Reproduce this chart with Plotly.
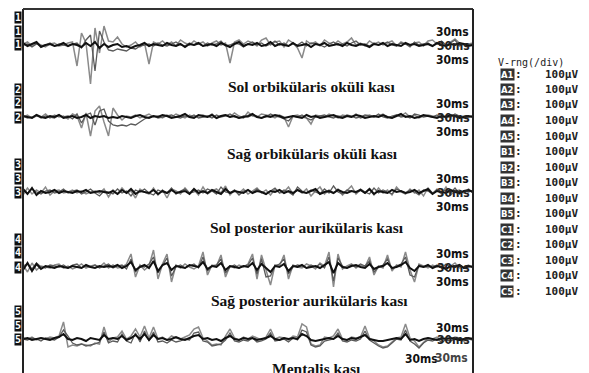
import plotly.graph_objects as go

# ---------------- data (amplitudes, 1 unit ~ 1 screen px, sampled every 3 ms) ----------------
TIME_STEP_MS = 3
CHANNEL_NAMES = ["Sol orbikülaris oküli kası", "Sağ orbikülaris oküli kası",
                 "Sol posterior aurikülaris kası", "Sağ posterior aurikülaris kası",
                 "Mentalis kası"]
SWEEP_LABEL = "30ms"
VRNG_TITLE = "V-rng(/div)"
VRNG_CHANNELS = ["A1", "A2", "A3", "A4", "A5", "B1", "B2", "B3", "B4", "B5",
                 "C1", "C2", "C3", "C4", "C5"]
VRNG_VALUE = "100µV"

CH1_A = [2,-1,1,3,-2,0,1,-1,0,2, -1,1,0,-2,2,-1,3,-3,1,-2, 0,1,-2,-1,-3,-1,0,2,-1,1,
         0,-1,2,0,-1,1,-2,1,0,2, -1,0,1,-1,2,0,-2,1,3,-1, 1,0,2,-1,0,3,-1,1,0,-1,
         2,-1,0,1,-2,1,0,2,-1,0, 1,-1,2,0,-1,1,0,-2,1,0, 2,-1,1,0,-1,2,0,1,-1,0,
         1,-1,2,0,-1,1,0,2,1,-1, 0]
CH1_B = [1,3,-1,2,0,-2,1,2,-1,0, 2,3,-21,12,2,-39,17,-8,19,4, 3,8,1,-2,0,3,-2,2,-19,3,
         1,4,0,3,-1,5,2,0,4,1, 3,-1,2,4,0,2,-18,3,5,1, 4,2,-1,5,7,0,3,4,-2,5,
         2,-3,-13,4,1,3,-1,5,2,0, 4,1,3,7,0,2,-1,4,1,3, 0,2,4,-1,3,1,0,2,3,-1,
         4,5,1,2,-1,3,6,2,0,1, 2]
CH1_C = [0,1,-2,1,-1,0,2,-1,1,0, -1,1,2,-3,5,10,-26,14,3,-5, -6,-4,-5,-6,-3,-4,-1,0,1,-1,
         2,0,-1,1,3,0,-1,2,0,1, -1,2,0,1,4,-1,0,2,1,-2, 1,3,0,2,-1,1,4,0,2,-1,
         1,0,3,-1,2,1,0,-2,1,3, 0,1,-1,2,4,0,1,-1,2,0, 1,3,0,-1,2,1,-2,3,0,1,
         2,-1,1,4,0,2,5,-1,1,0, 1]

CH2_A = [1,0,-1,2,0,-1,1,0,2,-1, 0,1,-1,0,2,-1,1,0,1,-1, 0,-1,1,0,-1,1,2,0,-1,1,
         0,2,1,-1,0,1,3,0,-1,2, 1,0,2,-1,1,2,0,1,-1,0, 1,3,0,-1,1,0,2,1,-1,0,
         1,0,-1,2,0,1,-1,0,1,2, 0,-1,1,0,2,1,-1,0,1,0, 2,0,-1,1,3,0,1,-1,0,2,
         1,0,-1,1,0,2,1,-1,0,1, 0]
CH2_B = [0,2,-1,1,0,3,-1,2,0,1, -2,3,1,-11,4,-19,6,11,-5,-19, 9,2,-3,1,0,2,-1,1,3,0,
         1,-1,2,0,3,1,-1,2,0,1, 2,0,3,-1,1,2,0,4,1,-1, 5,1,0,3,2,1,-1,2,0,-10,
         1,2,0,-1,-7,2,1,0,3,1, -1,2,1,0,3,-1,1,2,0,1, 3,0,-1,2,1,4,0,2,-1,1,
         2,1,0,3,-1,1,2,0,1,0, 1]
CH2_C = [1,-1,0,2,-1,1,0,-1,2,0, 1,-2,3,-6,2,4,-8,6,8,-4, -8,-9,-8,-9,-7,-8,-5,-2,0,1,
         -1,0,1,2,0,-1,1,0,2,-1, 0,1,-1,2,0,1,3,0,-1,1, 0,2,1,-1,0,3,1,0,-2,-4,
         1,0,2,-1,-3,0,1,2,0,-1, 1,0,2,1,-1,0,2,1,0,3, 0,-1,1,2,0,1,-1,3,2,0,
         1,0,2,-1,1,0,3,1,-1,0, 1]

CH3_A = [3,-2,4,-3,1,-1,0,2,-1,1, 0,-1,1,0,2,-1,0,1,0,-1, 1,-2,2,-1,3,-2,1,0,-1,2,
         -2,1,-1,2,-1,0,1,-2,3,-1, 1,-1,2,0,-2,3,-1,1,0,-1, 2,-1,1,0,-2,1,0,2,-1,1,
         -1,2,0,-1,1,3,-2,0,1,-1, 2,0,-1,1,0,2,-1,3,-2,1, 0,-1,2,0,1,-1,0,2,-1,1,
         3,-2,1,0,-1,2,0,-1,1,2, 0]
CH3_B = [-3,4,-2,2,-1,5,-3,1,2,-1, 0,2,-1,1,-2,0,1,-1,3,-5, 2,-2,4,-1,1,-6,3,0,-2,4,
         -3,2,-6,3,1,-2,4,-1,2,-3, 5,-2,1,3,-1,6,-3,2,-1,3, -2,1,4,-1,2,-3,3,-1,0,5,
         -2,2,-1,3,-4,1,5,-2,2,-1, 3,-3,1,6,-2,2,-1,3,-3,4, -1,2,-3,5,0,-2,3,-1,2,-4,
         4,-1,2,-2,5,-3,1,2,-1,3, -1]
CH3_C = [2,-1,3,0,-2,1,2,-1,0,3, -1,1,2,-2,0,3,-1,-4,1,0, -2,3,-1,1,-4,2,0,3,-1,-3,
         2,0,-1,4,-2,1,3,-1,0,2, -1,3,1,-2,5,0,-1,2,-3,1, 2,-1,3,0,-2,1,4,-1,2,0,
         -3,5,1,-1,2,0,-2,3,-1,6, 0,-2,2,1,-1,3,0,-2,4,-1, 2,0,-2,3,1,-1,2,0,-3,2,
         1,-2,3,0,2,-1,4,-2,1,0, 2]

CH4_A = [-3,4,-4,3,-2,1,0,-1,1,0, -1,1,0,-1,2,0,-1,1,0,1, 0,2,-1,1,5,-3,0,2,-1,6,
         -4,2,4,-3,1,0,-1,2,1,0, 5,-2,1,0,4,-3,1,0,-1,1, 0,4,-3,3,-1,-5,1,0,3,-4,
         1,0,2,-1,0,1,-1,2,5,-6, 4,0,-1,1,2,0,-1,3,-2,0, 1,4,-1,0,2,5,-1,-4,1,0,
         2,-1,1,0,-2,1,0,2,-1,1, 0]
CH4_B = [2,-5,4,-3,1,0,-1,2,3,-1, 1,-2,0,3,-1,1,2,0,4,-1, 2,-1,0,3,13,-10,2,-3,1,17,
         -12,3,13,-15,2,-1,3,0,-2,1, 15,-8,2,1,12,-10,1,-1,2,0, 3,13,-12,12,-4,-18,2,1,12,-12,
         2,0,-1,3,1,-2,4,1,15,-20, 13,-2,1,3,-1,2,0,10,-8,1, -1,12,-4,2,0,15,-3,-15,3,1,
         -1,2,0,3,-2,1,4,-1,0,2, -1]
CH4_C = [1,3,-2,4,0,-1,2,1,0,2, -1,2,3,-1,1,0,2,-1,1,3, -1,1,2,-2,8,-5,1,0,3,10,
         -6,1,9,-9,0,2,-1,1,3,-1, 10,-4,1,2,8,-6,0,2,-1,1, 2,9,-7,8,-10,-9,1,3,8,-7,
         0,2,1,-1,2,0,3,-1,10,-14, 9,1,-1,2,0,3,1,6,-5,0, 2,8,-2,1,3,10,-8,-10,2,0,
         1,0,2,-1,3,0,1,2,-1,0, 1]

CH5_A = [0,1,-1,0,1,0,-1,1,2,5, 0,-1,1,0,-2,1,0,-1,4,0, 1,0,3,-1,1,4,0,5,-1,4,
         0,1,-1,0,2,0,-1,1,3,4, 0,1,-1,0,-2,1,3,0,-1,1, 0,1,-1,0,1,3,0,-1,1,0,
         1,0,5,3,-1,-2,-1,0,1,0, 3,0,-1,1,0,2,4,0,-1,-2, -2,-1,0,1,0,5,-1,0,-2,0,
         1,0,-1,1,0,1,0,-1,0,1, 0]
CH5_B = [1,0,2,-1,1,0,2,1,3,17, -8,-6,-7,-5,-6,-7,-4,-5,12,-3, 1,2,8,0,3,10,2,13,1,12,
         0,2,-1,3,1,0,2,4,10,12, 1,-2,-6,-5,-6,3,10,1,-1,2, 0,3,1,-1,2,10,0,2,1,-1,
         3,2,15,12,-5,-7,-6,2,1,3, 10,0,-1,2,1,2,13,1,-2,-6, -8,-7,-3,1,2,15,1,-2,-8,-3,
         1,0,2,-1,1,0,2,1,-1,0, 1]
CH5_C = [0,-1,1,0,-2,1,0,-1,2,9, 3,-4,-6,-5,-7,-6,-5,-3,7,-4, -2,-3,5,-2,-4,6,-3,8,-2,7,
         -3,-2,-4,-1,-3,-2,0,-1,6,7, -2,-3,-7,-6,-5,-1,6,-2,-3,-1, -2,1,-3,-2,0,6,-2,-1,0,-3,
         1,-1,9,7,-6,-8,-7,-2,-1,0, 6,-2,-3,-1,-2,0,8,-1,-4,-7, -9,-8,-4,0,-1,9,-2,-5,-9,-4,
         -1,-2,0,-3,-1,-2,0,-1,-2,0, -1]

CHANNEL_TRACES = [(CH1_A, CH1_B, CH1_C), (CH2_A, CH2_B, CH2_C), (CH3_A, CH3_B, CH3_C),
                  (CH4_A, CH4_B, CH4_C), (CH5_A, CH5_B, CH5_C)]

# ---------------- layout constants (screen pixels) ----------------
PAGE_OFFSET = 8                      # default body margin of the written html page
W, H = 589, 373
PLOT_LEFT, PLOT_RIGHT, PLOT_TOP, PLOT_BOTTOM = 23, 473, 9, 373
ML = PLOT_LEFT - PAGE_OFFSET
MT = PLOT_TOP - PAGE_OFFSET
PW = PLOT_RIGHT - PLOT_LEFT
PH = PLOT_BOTTOM - PLOT_TOP
MR = W - ML - PW
MB = H - MT - PH
BASELINE_PX = [45, 117, 192, 267, 339]           # screen rows of the channel baselines
TITLE_PX = [86, 154, 227, 300, 368]
TITLE_X_PX = [311, 312, 307, 309, 316]


def ydata(py):
    return -(py - PLOT_TOP)


def xpaper(px):
    return (px - PLOT_LEFT) / PW


def ypaper(py):
    return 1 - (py - PLOT_TOP) / PH


fig = go.Figure()

styles = [
    dict(color="#8a8a8a", width=1.5),   # light grey sweep
    dict(color="#5a5a5a", width=1.3),   # darker grey sweep
    dict(color="#111111", width=2.0),   # black sweep on top
]

for ci, (a, b, c) in enumerate(CHANNEL_TRACES):
    off = ydata(BASELINE_PX[ci])
    for vals, st in zip((b, c, a), styles):
        t = [i * TIME_STEP_MS for i in range(len(vals))]
        fig.add_trace(go.Scatter(x=t, y=[v + off for v in vals], mode="lines",
                                 line=dict(color=st["color"], width=st["width"]),
                                 hoverinfo="skip", showlegend=False))

ann = []
serif = "Liberation Serif, Times New Roman, serif"
narrow = "Liberation Sans Narrow, Arial Narrow, DejaVu Sans Condensed, sans-serif"
mono = "DejaVu Sans Mono, Liberation Mono, monospace"

for ci, name in enumerate(CHANNEL_NAMES):
    base = BASELINE_PX[ci]
    ann.append(dict(text=name, xref="paper", yref="paper", x=xpaper(TITLE_X_PX[ci]),
                    y=ypaper(TITLE_PX[ci]), xanchor="center", yanchor="middle",
                    showarrow=False, font=dict(family=serif, size=15.5, color="#111", weight="bold")))
    for k, dy in enumerate((0, 14, 28)):
        ann.append(dict(text=str(ci + 1), xref="paper", yref="paper", x=xpaper(18),
                        y=ypaper(base - dy), xanchor="center", yanchor="middle",
                        showarrow=False, bgcolor="#111", borderpad=0,
                        font=dict(family=mono, size=10, color="white", weight="bold")))
    ups = 13 if ci < 4 else 11
    ann.append(dict(text=SWEEP_LABEL, xref="paper", yref="paper", x=xpaper(471),
                    y=ypaper(base - ups), xanchor="right", yanchor="middle", showarrow=False,
                    font=dict(family=narrow, size=12, color="#111", weight="bold")))
    ann.append(dict(text=SWEEP_LABEL, xref="paper", yref="paper", x=xpaper(472),
                    y=ypaper(base + 1), xanchor="right", yanchor="middle", showarrow=False,
                    font=dict(family=narrow, size=12, color="#222", weight="bold")))
    if ci < 4:
        ann.append(dict(text=SWEEP_LABEL, xref="paper", yref="paper", x=xpaper(471),
                        y=ypaper(base + 15), xanchor="right", yanchor="middle", showarrow=False,
                        font=dict(family=narrow, size=12, color="#111", weight="bold")))
    else:
        ann.append(dict(text=SWEEP_LABEL, xref="paper", yref="paper", x=xpaper(440),
                        y=ypaper(base + 20), xanchor="right", yanchor="middle", showarrow=False,
                        font=dict(family=narrow, size=12, color="#111", weight="bold")))
        ann.append(dict(text=SWEEP_LABEL, xref="paper", yref="paper", x=xpaper(470),
                        y=ypaper(base + 19), xanchor="right", yanchor="middle", showarrow=False,
                        font=dict(family=narrow, size=12, color="#444", weight="bold")))

# V-range legend
ann.append(dict(text=VRNG_TITLE, xref="paper", yref="paper", x=xpaper(531), y=ypaper(62),
                xanchor="center", yanchor="middle", showarrow=False,
                font=dict(family=mono, size=10, color="#222")))
for j, lab in enumerate(VRNG_CHANNELS):
    py = 74 + 15.5 * j
    ann.append(dict(text=lab, xref="paper", yref="paper", x=xpaper(507), y=ypaper(py),
                    xanchor="center", yanchor="middle", showarrow=False, bgcolor="#333",
                    borderpad=0, font=dict(family=narrow, size=9.5, color="white", weight="bold")))
    ann.append(dict(text=":", xref="paper", yref="paper", x=xpaper(518), y=ypaper(py),
                    xanchor="center", yanchor="middle", showarrow=False,
                    font=dict(family=mono, size=11, color="#222", weight="bold")))
    ann.append(dict(text=VRNG_VALUE, xref="paper", yref="paper", x=xpaper(580), y=ypaper(py),
                    xanchor="right", yanchor="middle", showarrow=False,
                    font=dict(family=mono, size=11, color="#222", weight="bold")))

shapes = [
    dict(type="line", xref="paper", yref="paper", x0=0, x1=0, y0=-0.05, y1=1,
         line=dict(color="#222", width=2)),
    dict(type="line", xref="paper", yref="paper", x0=0, x1=1, y0=1, y1=1,
         line=dict(color="#333", width=2)),
    dict(type="line", xref="paper", yref="paper", x0=1, x1=1, y0=-0.05, y1=1,
         line=dict(color="#222", width=2)),
]

fig.update_layout(
    width=W, height=H, margin=dict(l=ML, r=MR, t=MT, b=MB),
    paper_bgcolor="white", plot_bgcolor="white",
    xaxis=dict(range=[0, 300], visible=False),
    yaxis=dict(range=[-PH, 0], visible=False),
    annotations=ann, shapes=shapes, showlegend=False,
)

fig.write_html("out.html")
